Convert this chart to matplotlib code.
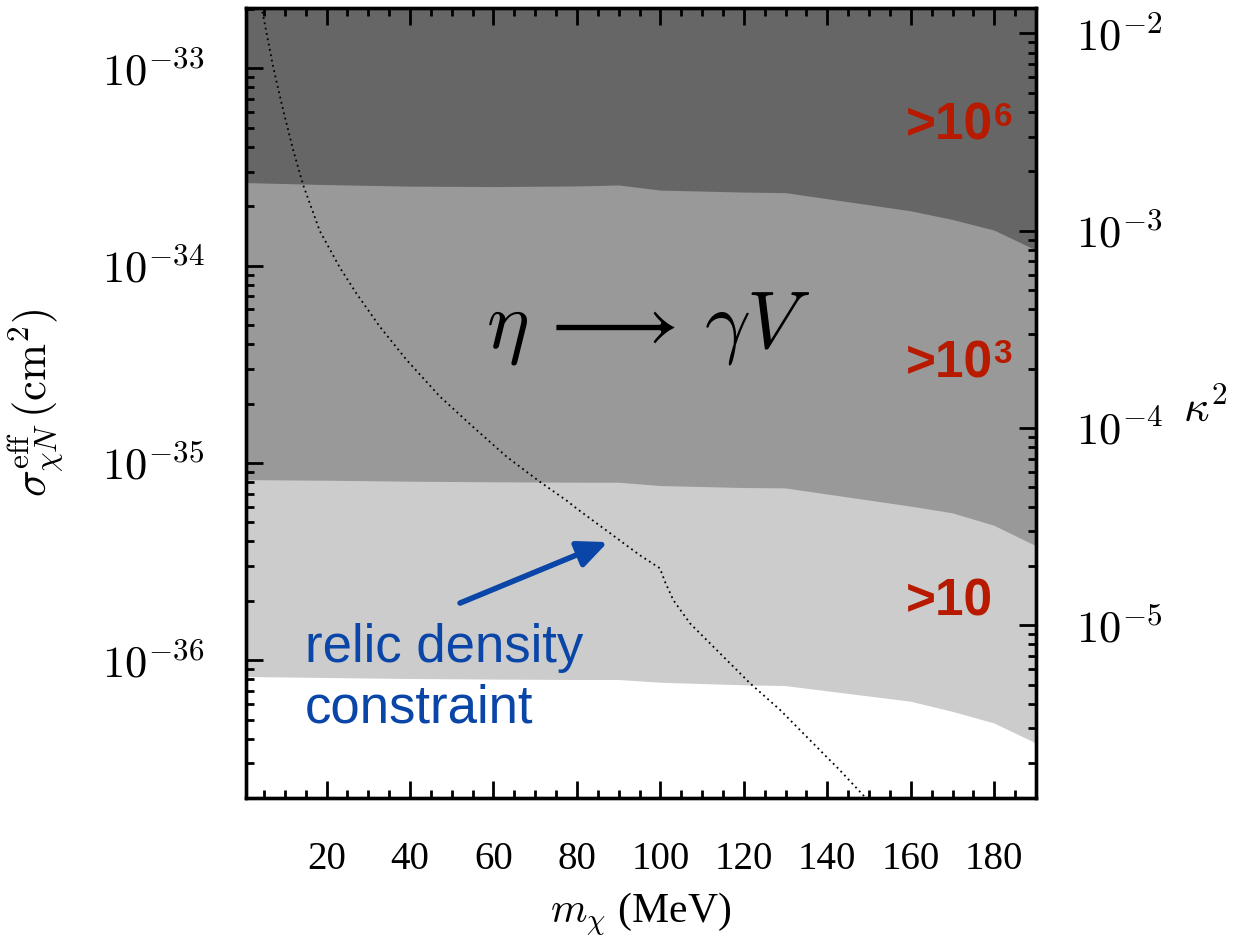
import numpy as np
import matplotlib.pyplot as plt
from matplotlib.ticker import MultipleLocator, LogLocator, FixedLocator, FuncFormatter, NullFormatter

plt.rcParams["font.family"] = "serif"
plt.rcParams["font.serif"] = ["Liberation Serif", "DejaVu Serif"]
plt.rcParams["mathtext.fontset"] = "cm"

# Dark matter mass grid (MeV) for the event-count contours
mass = [0.7, 20, 40, 60, 80, 90, 100, 120, 130, 160, 170, 180, 190]

# log10(sigma_eff / cm^2) at the lower edge of each event-count band
log_sigma_1e6 = [-33.579, -33.589, -33.597, -33.599, -33.596, -33.591, -33.617,
                 -33.627, -33.630, -33.722, -33.766, -33.820, -33.921]
log_sigma_1e3 = [-35.087, -35.090, -35.095, -35.098, -35.100, -35.100, -35.117,
                 -35.127, -35.129, -35.221, -35.255, -35.318, -35.421]
log_sigma_10 = [-36.085, -36.090, -36.095, -36.098, -36.100, -36.100, -36.114,
                -36.127, -36.131, -36.210, -36.261, -36.320, -36.421]

# Relic density constraint curve
relic_mass = [4.0, 4.8, 7.2, 9.6, 12.0, 14.4, 18.4, 23.2, 27.2, 32.8, 39.2, 47.2,
              55.1, 63.2, 71.1, 77.5, 80.0, 87.5, 95.1, 99.9, 101.1, 103.1, 107.1,
              115.1, 121.5, 128.7, 136.6, 143.0, 148.2, 150.0]
log_sigma_relic = [-32.66, -32.730, -32.992, -33.211, -33.414, -33.591, -33.825,
                   -34.010, -34.142, -34.310, -34.478, -34.664, -34.817, -34.969,
                   -35.095, -35.190, -35.232, -35.349, -35.468, -35.534, -35.602,
                   -35.695, -35.813, -35.982, -36.117, -36.252, -36.421, -36.557,
                   -36.675, -36.716]

# kappa^2 = sigma_eff / 10**log_sigma_per_kappa2
log_sigma_per_kappa2 = -30.823

x_lim = (0.7, 190)
log_y_lim = (-36.698, -32.694)
sigma_ticks = [1e-36, 1e-35, 1e-34, 1e-33]
kappa2_ticks = [1e-5, 1e-4, 1e-3, 1e-2]

band_colors = ["#cccccc", "#999999", "#666666"]
red = "#b81a00"
blue = "#0a45a8"

fig = plt.figure(figsize=(12.33, 9.40), dpi=100)
ax = fig.add_axes([0.1995, 0.1511, 0.6407, 0.8404])

m = np.array(mass)
top = np.full_like(m, 1e-30)
for edge, col in zip([log_sigma_10, log_sigma_1e3, log_sigma_1e6], band_colors):
    ax.fill_between(m, 10 ** np.array(edge), top, color=col, lw=0, zorder=0.5)

ax.plot(relic_mass, 10 ** np.array(log_sigma_relic), color="k",
        lw=1.3, ls=(0, (1, 2)), zorder=1)

power_fmt = FuncFormatter(lambda v, pos: r"$10^{%d}$" % round(np.log10(v)))

ax.set_yscale("log")
ax.set_xlim(*x_lim)
ax.set_ylim(10 ** log_y_lim[0], 10 ** log_y_lim[1])

ax.xaxis.set_major_locator(MultipleLocator(20))
ax.xaxis.set_minor_locator(MultipleLocator(5))
ax.yaxis.set_major_locator(FixedLocator(sigma_ticks))
ax.yaxis.set_major_formatter(power_fmt)
ax.yaxis.set_minor_locator(LogLocator(base=10, subs=np.arange(2, 10), numticks=20))
ax.yaxis.set_minor_formatter(NullFormatter())

ax.tick_params(which="both", direction="in", top=True, right=False, width=2)
ax.tick_params(which="major", length=12)
ax.tick_params(which="minor", length=5.5)
ax.tick_params(axis="x", labelsize=28, pad=31)
ax.tick_params(axis="y", labelsize=32, pad=30)
for sp in ax.spines.values():
    sp.set_linewidth(2.4)

ax.set_xlabel(r"$m_\chi$ (MeV)", fontsize=30, labelpad=9)
ax.set_ylabel(r"$\sigma^{\rm eff}_{\chi N}\,({\rm cm}^2)$", fontsize=32)
ax.yaxis.set_label_coords(-0.229, 0.5)

# right-hand axis in kappa^2
ax2 = ax.twinx()
ax2.set_yscale("log")
ax2.set_ylim(10 ** (log_y_lim[0] - log_sigma_per_kappa2),
             10 ** (log_y_lim[1] - log_sigma_per_kappa2))
ax2.yaxis.set_major_locator(FixedLocator(kappa2_ticks))
ax2.yaxis.set_major_formatter(power_fmt)
ax2.yaxis.set_minor_locator(LogLocator(base=10, subs=np.arange(2, 10), numticks=20))
ax2.yaxis.set_minor_formatter(NullFormatter())
ax2.tick_params(which="both", direction="in", width=2)
ax2.tick_params(which="major", length=12)
ax2.tick_params(which="minor", length=5.5)
ax2.tick_params(axis="y", labelsize=32, pad=29)
ax2.set_ylabel(r"$\kappa^2$", fontsize=32, rotation=0, ha="left", va="center")
ax2.yaxis.set_label_coords(1.186, 0.491)
for sp in ax2.spines.values():
    sp.set_linewidth(2.4)

ax.text(97, 10 ** -34.32, r"$\eta\,\longrightarrow\,\gamma V$", fontsize=58,
        ha="center", va="center")


def count_label(x, log_y, base, power=None):
    t = ax.text(x, 10 ** log_y, base, color=red, fontsize=37, fontweight="bold",
                family="Liberation Sans", ha="left", va="baseline")
    if power:
        ax.annotate(power, xy=(1, 1), xycoords=t, xytext=(0.5, 0),
                    textcoords="offset points", ha="left", va="top", color=red,
                    fontsize=24, fontweight="bold", family="Liberation Sans")


count_label(158.8, -33.363, ">10", "6")
count_label(158.8, -34.565, ">10", "3")
count_label(158.8, -35.771, ">10")

ax.annotate("", xy=(87.4, 10 ** -35.401), xytext=(52.0, 10 ** -35.710),
            arrowprops=dict(arrowstyle="-|>,head_length=0.6,head_width=0.27",
                            mutation_scale=30, color=blue, lw=4,
                            shrinkA=0, shrinkB=0))
ax.text(14.8, 10 ** -36.009, "relic density", color=blue, fontsize=38,
        family="Liberation Sans", ha="left", va="baseline")
ax.text(14.8, 10 ** -36.313, "constraint", color=blue, fontsize=38,
        family="Liberation Sans", ha="left", va="baseline")

fig.savefig("out.png", dpi=100)
